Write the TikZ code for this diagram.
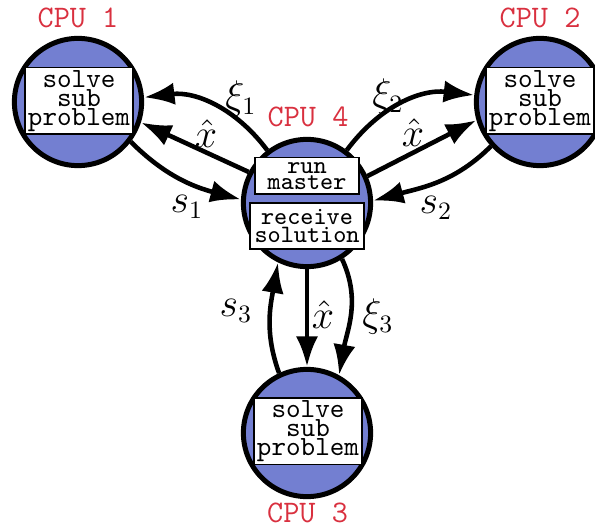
\documentclass[tikz,border=0pt]{standalone}
\usetikzlibrary{arrows.meta}
\definecolor{cpured}{RGB}{217,48,63}
\definecolor{cpublue}{RGB}{115,127,209}
\newcommand\mytightlsk{\lineskiplimit=-10pt\relax}
\begin{document}
\begin{tikzpicture}[x=0.36pt,y=0.36pt,
  cpu/.style={circle,draw=black,fill=cpublue,line width=1.8pt,minimum size=45.8pt,inner sep=0pt},
  taskbox/.style={draw=black,fill=white,line width=0.7pt,align=center,inner sep=0pt},
  solvebox/.style={taskbox,minimum width=38.9pt,minimum height=24.1pt,
    font=\fontsize{10}{6.8}\selectfont\ttfamily\mytightlsk},
  cpulabel/.style={text=cpured,font=\fontsize{11.3}{13}\selectfont\ttfamily,anchor=base},
  flow/.style={line width=1.65pt,-{Latex[length=11pt,width=8pt]}},
  lbl/.style={font=\fontsize{13.5}{16}\selectfont}]
\useasboundingbox (0,0) rectangle (595,529);
% CPUs
\node[cpu] (c1) at (78,427) {};
\node[cpu] (c2) at (540,427) {};
\node[cpu] (c4) at (307,326) {};
\node[cpu] (c3) at (307,96) {};
% connectors
\draw[flow] (c4.127) to[bend right=30] (c1.4);
\draw[flow] (c4.152) -- (c1.-18);
\draw[flow] (c1.-37) to[out=-45,in=165] (c4.177);
\draw[flow] (c4.53) to[bend left=30] (c2.174);
\draw[flow] (c4.24) -- (c2.196);
\draw[flow] (c2.222) to[out=225,in=15] (c4.2);
\draw[flow] (c4.south) -- (c3.north);
\draw[flow] (c4.-58) to[out=-65,in=80] (c3.61);
\draw[flow] (c3.115) to[out=110,in=-100] (c4.244);
% boxes
\node[solvebox] (b1) at (79,428) {solve\\sub\\problem};
\node[solvebox] (b2) at (540,428) {solve\\sub\\problem};
\node[solvebox] (b3) at (308,98) {solve\\sub\\problem};
\node[taskbox,minimum width=37.4pt,minimum height=13.3pt,
  font=\fontsize{9}{5.6}\selectfont\ttfamily\mytightlsk] (b4a) at (307,353) {run\\master};
\node[taskbox,minimum width=41pt,minimum height=16.6pt,
  font=\fontsize{9}{6.5}\selectfont\ttfamily\mytightlsk] (b4b) at (307,303) {receive\\solution};
% CPU labels
\node[cpulabel] (l1) at (78,501) {CPU 1};
\node[cpulabel] (l2) at (540,501) {CPU 2};
\node[cpulabel] (l4) at (308,402) {CPU 4};
\node[cpulabel] (l3) at (307.5,7) {CPU 3};
% edge labels
\node[lbl] (m1) at (241,430) {$\xi_1$};
\node[lbl] (m2) at (206,395) {$\hat{x}$};
\node[lbl] (m3) at (187,322) {$s_1$};
\node[lbl] (m4) at (388,432) {$\xi_2$};
\node[lbl] (m5) at (413,396) {$\hat{x}$};
\node[lbl] (m6) at (436,321) {$s_2$};
\node[lbl] (m7) at (236,218) {$s_3$};
\node[lbl] (m8) at (323,214) {$\hat{x}$};
\node[lbl] (m9) at (378,213) {$\xi_3$};
\end{tikzpicture}
\end{document}
